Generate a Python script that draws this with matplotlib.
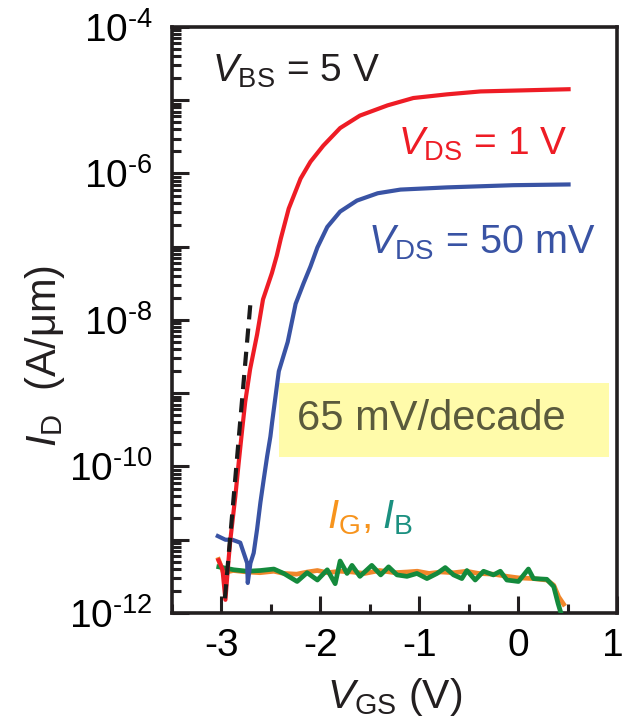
import matplotlib
matplotlib.use("Agg")
import matplotlib.pyplot as plt
import numpy as np
from matplotlib.patches import Rectangle
from matplotlib.transforms import ScaledTranslation
from matplotlib.ticker import LogLocator, FuncFormatter, MultipleLocator, NullFormatter

plt.rcParams['font.family'] = ['Liberation Sans', 'DejaVu Sans']
plt.rcParams['mathtext.fontset'] = 'custom'
plt.rcParams['mathtext.rm'] = 'Liberation Sans'
plt.rcParams['mathtext.it'] = 'Liberation Sans:italic'
plt.rcParams['axes.unicode_minus'] = False

# I_D at V_DS = 1 V (log10 of A/um)
vgs_red = [-3.03, -2.99, -2.96, -2.93, -2.91, -2.86, -2.825, -2.79, -2.76, -2.71,
           -2.64, -2.58, -2.53, -2.49, -2.44, -2.40, -2.32, -2.20, -2.10, -1.97,
           -1.80, -1.60, -1.32, -1.06, -0.72, -0.38, 0.51]
log_red = [-11.28, -11.40, -11.82, -11.30, -11.00, -10.41, -9.94, -9.49, -9.12, -8.67,
           -8.20, -7.72, -7.52, -7.36, -7.12, -6.89, -6.48, -6.07, -5.84, -5.62,
           -5.38, -5.21, -5.07, -4.97, -4.92, -4.88, -4.85]

# I_D at V_DS = 50 mV
vgs_blue = [-3.037, -2.96, -2.89, -2.81, -2.775, -2.74, -2.734, -2.707, -2.674, -2.64,
            -2.606, -2.573, -2.538, -2.505, -2.488, -2.42, -2.33, -2.25, -2.17, -2.10,
            -2.03, -1.93, -1.80, -1.63, -1.42, -1.19, -0.72, -0.05, 0.51]
log_blue = [-10.95, -11.00, -11.00, -11.04, -11.18, -11.32, -11.59, -11.32, -11.18, -10.86,
            -10.49, -10.18, -9.86, -9.59, -9.40, -8.70, -8.30, -7.78, -7.50, -7.27,
            -7.01, -6.73, -6.52, -6.37, -6.27, -6.22, -6.19, -6.16, -6.15]

# gate current I_G
vgs_ig = [-3.03, -2.98, -2.88, -2.74, -2.61, -2.47, -2.37, -2.24, -2.13, -2.03,
          -1.93, -1.80, -1.68, -1.55, -1.40, -1.25, -1.12, -1.02, -0.90, -0.78,
          -0.65, -0.52, -0.40, -0.25, -0.11, 0.00, 0.15, 0.29, 0.36, 0.41, 0.46]
log_ig = [-11.27, -11.45, -11.42, -11.44, -11.45, -11.43, -11.46, -11.47, -11.44, -11.42,
          -11.45, -11.43, -11.44, -11.46, -11.42, -11.45, -11.44, -11.43, -11.46, -11.44,
          -11.45, -11.43, -11.46, -11.47, -11.50, -11.52, -11.53, -11.55, -11.62, -11.78, -11.88]

# bulk current I_B
vgs_ib = [-3.027, -2.876, -2.74, -2.606, -2.47, -2.37, -2.235, -2.134, -2.03, -1.93,
          -1.85, -1.80, -1.73, -1.68, -1.60, -1.48, -1.39, -1.31, -1.225, -1.124,
          -1.023, -0.922, -0.82, -0.737, -0.653, -0.569, -0.518, -0.434, -0.35, -0.25,
          -0.18, -0.114, 0.003, 0.104, 0.155, 0.29, 0.36, 0.404, 0.455]
log_ib = [-11.37, -11.41, -11.43, -11.42, -11.40, -11.46, -11.57, -11.45, -11.55, -11.41,
          -11.60, -11.29, -11.46, -11.35, -11.50, -11.35, -11.48, -11.37, -11.48, -11.50,
          -11.46, -11.53, -11.46, -11.38, -11.48, -11.53, -11.42, -11.55, -11.43, -11.48,
          -11.43, -11.55, -11.57, -11.40, -11.53, -11.54, -11.64, -11.87, -12.10]

# 65 mV/decade guide line
vgs_ss = [-2.965, -2.705]
log_ss = [-11.80, -7.74]

fig = plt.figure(figsize=(6.23, 7.21), dpi=100)
ax = fig.add_axes([0.2761, 0.1498, 0.7143, 0.8128])

ax.add_patch(Rectangle((0.240, 0.266), 0.742, 0.126, transform=ax.transAxes,
                       facecolor='#FFFBAA', edgecolor='none', zorder=0))

ax.plot(vgs_ig, 10.0 ** np.array(log_ig), color='#F0862A', lw=3.4, zorder=2)
ax.plot(vgs_ib, 10.0 ** np.array(log_ib), color='#148A3C', lw=3.4, zorder=3)
ax.plot(vgs_blue, 10.0 ** np.array(log_blue), color='#3953A4', lw=3, zorder=4)
ax.plot(vgs_red, 10.0 ** np.array(log_red), color='#EE1C25', lw=3, zorder=5)
ax.plot(vgs_ss, 10.0 ** np.array(log_ss), color='#1a1a1a', lw=3, dashes=[3.4, 2.2], zorder=6)

ax.set_yscale('log')
ax.set_xlim(-3.5, 1)
ax.set_ylim(1e-12, 1e-4)

ax.xaxis.set_major_locator(MultipleLocator(1))
ax.xaxis.set_minor_locator(MultipleLocator(0.5))
ax.yaxis.set_major_locator(LogLocator(base=10, numticks=20))
ax.yaxis.set_minor_locator(LogLocator(base=10, subs=np.arange(2, 10), numticks=20))
ax.yaxis.set_minor_formatter(NullFormatter())


def fmt_y(v, pos):
    e = int(round(np.log10(v)))
    if e % 2:
        return ''
    return r'$10^{\text{%d}}$' % e


ax.yaxis.set_major_formatter(FuncFormatter(fmt_y))
ax.xaxis.set_major_formatter(FuncFormatter(lambda v, p: '%d' % round(v)))

for s in ax.spines.values():
    s.set_linewidth(2.6)
    s.set_color('#231F20')
ax.tick_params(which='both', direction='in', top=False, right=False, color='#231F20', width=2.2)
ax.tick_params(which='major', length=12.5)
ax.tick_params(which='minor', length=6.5)
ax.tick_params(axis='x', which='major', labelsize=28, pad=11)
ax.tick_params(axis='y', which='major', labelsize=28, pad=14)

# the "1" label sits right at the figure edge; nudge it left a little
fig.canvas.draw()
for tick in ax.xaxis.get_major_ticks():
    if abs(tick.get_loc() - 1) < 1e-6:
        lab = tick.label1
        lab.set_transform(lab.get_transform() + ScaledTranslation(-4 / 100, 0, fig.dpi_scale_trans))

ax.text(0.090, 0.906, r'$V_{\mathrm{BS}}$ = 5 V', transform=ax.transAxes,
        fontsize=28, color='#231F20', va='baseline')
ax.text(0.508, 0.782, r'$V_{\mathrm{DS}}$ = 1 V', transform=ax.transAxes,
        fontsize=28, color='#EE1C25', va='baseline')
ax.text(0.440, 0.614, r'$V_{\mathrm{DS}}$ = 50 mV', transform=ax.transAxes,
        fontsize=28.5, color='#3953A4', va='baseline')
ax.text(0.348, 0.145, r'$I_{\mathrm{G}}$,', transform=ax.transAxes,
        fontsize=29, color='#F7941D', va='baseline')
ax.text(0.472, 0.145, r'$I_{\mathrm{B}}$', transform=ax.transAxes,
        fontsize=29, color='#1B9080', va='baseline')
ax.text(0.281, 0.312, '65 mV/decade', transform=ax.transAxes,
        fontsize=30, color='#5a5a3c', va='baseline')

fig.text(0.634, 0.018, r'$V_{\mathrm{GS}}$ (V)', fontsize=29.5, color='#231F20',
         ha='center', va='baseline')
fig.text(0.072, 0.506, r'$I_{\mathrm{D}}$  (A/μm)', fontsize=30, color='#231F20',
         ha='center', va='center', rotation=90)

fig.savefig('out.png', dpi=100)
